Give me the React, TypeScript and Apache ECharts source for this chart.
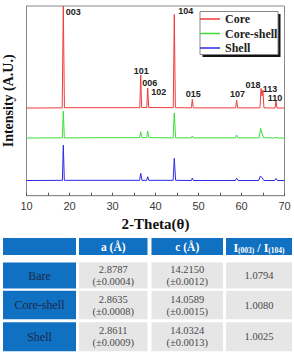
import React, { useEffect, useRef } from 'react';
import * as echarts from 'echarts';

// XRD patterns, [2θ, stacked intensity]
const coreTrace: number[][] = [
  [10, 46.2], [18.3, 46.3], [18.56, 100], [18.82, 46.4],
  [36.35, 46.4], [36.56, 63.6], [36.78, 46.5],
  [37.98, 46.5], [38.19, 56.8], [38.42, 46.5],
  [44.13, 46.4], [44.37, 95.6], [44.62, 46.4],
  [48.36, 46.3], [48.56, 50.8], [48.78, 46.3],
  [58.64, 46.3], [58.86, 50.4], [59.1, 46.3],
  [64.3, 46.3], [64.53, 56.6], [64.78, 52.5], [64.98, 55.7], [65.22, 46.3],
  [67.8, 46.2], [68.02, 50.1], [68.26, 46.2],
  [70, 46.2],
];
const coreShellTrace: number[][] = [
  [10, 30.4], [18.35, 30.5], [18.56, 44.6], [18.8, 30.5],
  [36.3, 30.6], [36.56, 33.7], [36.85, 30.6],
  [37.95, 30.6], [38.19, 34.1], [38.45, 30.6],
  [44.1, 30.5], [44.37, 43.6], [44.68, 30.5],
  [48.35, 30.5], [48.56, 31.5], [48.8, 30.5],
  [58.6, 30.5], [58.86, 32.0], [59.15, 30.5],
  [64.1, 30.5], [64.45, 35.5], [64.75, 33.0], [65.1, 30.6],
  [67.8, 30.4], [68.02, 30.9], [68.3, 30.4],
  [70, 30.4],
];
const shellTrace: number[][] = [
  [10, 8.0], [18.35, 8.1], [18.56, 26.7], [18.8, 8.1],
  [36.3, 8.1], [36.56, 11.8], [36.85, 8.1],
  [37.95, 8.1], [38.19, 10.0], [38.45, 8.1],
  [44.1, 8.1], [44.37, 19.7], [44.68, 8.1],
  [48.35, 8.0], [48.56, 9.3], [48.8, 8.0],
  [58.55, 8.0], [58.86, 9.2], [59.2, 8.0],
  [64.0, 8.0], [64.4, 10.4], [64.75, 9.5], [65.2, 8.0],
  [67.7, 8.0], [68.02, 9.1], [68.35, 8.0],
  [70, 8.0],
];

const seriesNames = ['Core', 'Core-shell', 'Shell'];
const seriesColors = ['#f03c3c', '#3cdc3c', '#2a2ae6'];

// Miller indices marked on the Core pattern: [hkl, 2θ, peak top]
const peakIndices = ['003', '101', '006', '102', '104', '015', '107', '018', '113', '110'];
const peakPositions = [18.56, 36.56, 38.19, 38.19, 44.37, 48.56, 58.86, 64.53, 64.98, 68.02];
const peakTops = [100, 63.6, 56.8, 56.8, 95.6, 50.8, 50.4, 56.6, 55.7, 50.1];
// label shift in pixels from each peak tip
const labelShift = [
  [10, 6], [0.5, -4], [2, -5], [11, 4], [11.5, -3],
  [1, -5], [1, -6], [-8, -3], [7, -1], [-1, -2.5],
];

// xAxis ticks
const xTickValues = [10, 20, 30, 40, 50, 60, 70];

// Lattice parameter table
const rowNames = ['Bare', 'Core-shell', 'Shell'];
const aValues = ['2.8787', '2.8635', '2.8611'];
const aErrors = ['0.0004', '0.0008', '0.0009'];
const cValues = ['14.2150', '14.0589', '14.0324'];
const cErrors = ['0.0012', '0.0015', '0.0013'];
const ratioValues = ['1.0794', '1.0080', '1.0025'];

const BLUE = '#1070c2';
const GRAY = '#e6e6e6';

function buildTable(): any[] {
  const colX = [3, 79, 151.5, 226];
  const colW = [73, 68.5, 71.5, 66];
  const headY = 238;
  const headH = 17;
  const rowY = [262.5, 290.8, 322.2];
  const rowH = [26, 28.5, 29];
  const els: any[] = [];
  colX.forEach((x, i) => {
    els.push({ type: 'rect', shape: { x, y: headY, width: colW[i], height: headH }, style: { fill: BLUE } });
  });
  const headFont = { fontFamily: 'Liberation Serif', fontWeight: 'bold', fontSize: 11.5, fill: '#ffffff' };
  els.push({ type: 'text', x: colX[1] + colW[1] / 2, y: headY + headH / 2, style: { text: 'a (Å)', align: 'center', verticalAlign: 'middle', ...headFont } });
  els.push({ type: 'text', x: colX[2] + colW[2] / 2, y: headY + headH / 2, style: { text: 'c (Å)', align: 'center', verticalAlign: 'middle', ...headFont } });
  els.push({
    type: 'text', x: colX[3] + colW[3] / 2, y: headY + headH / 2 + 1,
    style: {
      text: '{b|I}{s|(003)}{b| / I}{s|(104)}', align: 'center', verticalAlign: 'middle',
      rich: {
        b: { fontFamily: 'Liberation Serif', fontWeight: 'bold', fontSize: 12, fill: '#fff', lineHeight: 14 },
        s: { fontFamily: 'Liberation Serif', fontWeight: 'bold', fontSize: 7.5, fill: '#fff', lineHeight: 14, padding: [6, 0, 0, 0] },
      },
    },
  });
  rowNames.forEach((name, r) => {
    const y = rowY[r];
    const h = rowH[r];
    els.push({ type: 'rect', shape: { x: colX[0], y, width: colW[0], height: h }, style: { fill: BLUE } });
    for (let c = 1; c < 4; c++) {
      els.push({ type: 'rect', shape: { x: colX[c], y, width: colW[c], height: h }, style: { fill: GRAY } });
    }
    els.push({ type: 'text', x: colX[0] + colW[0] / 2, y: y + h / 2, style: { text: name, align: 'center', verticalAlign: 'middle', fontFamily: 'Liberation Serif', fontSize: 12, fill: '#1c2a48' } });
    const cellFont = { fontFamily: 'Liberation Serif', fontSize: 10.5, fill: '#4a4a4a', lineHeight: 12, align: 'center', verticalAlign: 'middle' };
    els.push({ type: 'text', x: colX[1] + colW[1] / 2, y: y + h / 2, style: { text: `${aValues[r]}\n(±${aErrors[r]})`, ...cellFont } });
    els.push({ type: 'text', x: colX[2] + colW[2] / 2, y: y + h / 2, style: { text: `${cValues[r]}\n(±${cErrors[r]})`, ...cellFont } });
    els.push({ type: 'text', x: colX[3] + colW[3] / 2, y: y + h / 2, style: { text: ratioValues[r], ...cellFont } });
  });
  return els;
}

export default function App() {
  const ref = useRef<HTMLDivElement>(null);
  useEffect(() => {
    if (!ref.current) return;
    const chart = echarts.init(ref.current, undefined, { renderer: 'svg' });
    const traces = [coreTrace, coreShellTrace, shellTrace];
    const option: any = {
      animation: false,
      backgroundColor: '#ffffff',
      grid: {
        left: 26.5, right: 9.5, top: 6, bottom: 157.3, outerBoundsMode: 'none', containLabel: false,
        show: true, borderColor: '#8a8a8a', borderWidth: 1, backgroundColor: 'transparent',
      },
      xAxis: {
        type: 'value', min: 10, max: 70, interval: 5,
        axisLine: { show: true, lineStyle: { color: '#8a8a8a', width: 1 } },
        axisTick: { show: true, inside: true, length: 3, lineStyle: { color: '#555' } },
        axisLabel: {
          formatter: (v: number) => (xTickValues.indexOf(v) >= 0 ? String(v) : ''),
          color: '#3a3a3a', fontSize: 11, fontFamily: 'Liberation Sans', margin: 5,
        },
        splitLine: { show: false },
        name: '2-Theta(θ)', nameLocation: 'middle', nameGap: 16,
        nameTextStyle: { fontFamily: 'Liberation Serif', fontWeight: 'bold', fontSize: 15, color: '#111' },
      },
      yAxis: {
        type: 'value', min: 0, max: 100,
        axisLine: { show: true, lineStyle: { color: '#8a8a8a', width: 1 } },
        axisTick: { show: false }, axisLabel: { show: false }, splitLine: { show: false },
        name: 'Intensity (A.U.)', nameLocation: 'middle', nameGap: 11.5, nameRotate: 90,
        nameTextStyle: { fontFamily: 'Liberation Serif', fontWeight: 'bold', fontSize: 14, color: '#111' },
      },
      legend: {
        orient: 'vertical', left: 200, top: 13, itemWidth: 20, itemHeight: 1.5, itemGap: 2.5, padding: 0, z: 10,
        icon: 'rect',
        data: seriesNames,
        textStyle: { fontFamily: 'Liberation Serif', fontWeight: 'bold', fontSize: 12, color: '#222', lineHeight: 12 },
      },
      graphic: [
        { type: 'rect', z: 3, shape: { x: 202.5, y: 14, width: 78, height: 43 }, style: { fill: '#111' } },
        { type: 'rect', z: 4, shape: { x: 200, y: 11.5, width: 78, height: 43 }, style: { fill: '#fff', stroke: '#888', lineWidth: 1 } },
        ...buildTable(),
      ],
      series: traces.map((data, i) => ({
        type: 'line', name: seriesNames[i], data, symbol: 'none', z: 2,
        lineStyle: { color: seriesColors[i], width: 1 }, itemStyle: { color: seriesColors[i] },
        markPoint: i === 0 ? {
          symbol: 'circle', symbolSize: 0,
          label: { show: true, position: 'inside', formatter: '{b}', fontFamily: 'Liberation Sans', fontWeight: 'bold', fontSize: 9, color: '#222' },
          data: peakIndices.map((hkl, k) => ({
            name: hkl, coord: [peakPositions[k], peakTops[k]],
            label: { offset: labelShift[k] },
          })),
        } : undefined,
      })),
    };
    chart.setOption(option);
    return () => chart.dispose();
  }, []);
  return <div ref={ref} style={{ position: 'fixed', left: 0, top: 0, width: 294, height: 353 }} />;
}
